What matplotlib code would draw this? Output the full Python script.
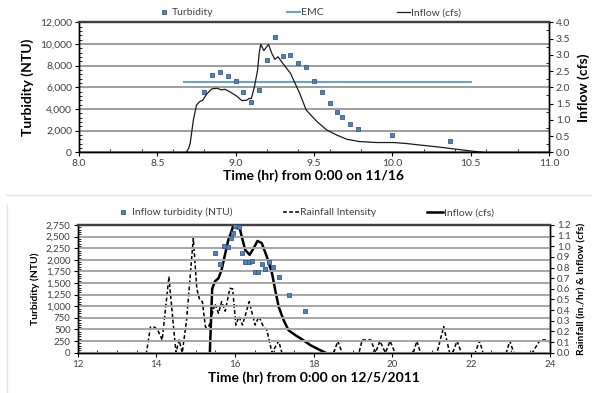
## turbidity / inflow event plots (two storms)

import matplotlib
matplotlib.use('Agg')
import matplotlib.pyplot as plt
import matplotlib.ticker as mticker
from matplotlib.lines import Line2D

plt.rcParams['font.family'] = ['Lato', 'DejaVu Sans']

# ---- storm of 11/16 ----
turb1_t   = [8.80, 8.85, 8.90, 8.95, 9.00, 9.05, 9.10, 9.15, 9.20, 9.25, 9.30, 9.35,
             9.40, 9.45, 9.50, 9.55, 9.60, 9.65, 9.68, 9.73, 9.78, 10.00, 10.37]
turb1_ntu = [5550, 7100, 7420, 7020, 6620, 5570, 4660, 5760, 8550, 10620, 8930, 8960,
             8220, 7900, 6620, 5520, 4570, 3730, 3250, 2600, 2160, 1620, 1020]
emc_t     = [8.67, 10.50]
emc_ntu   = [6500, 6500]
flow1_t   = [8.685, 8.70, 8.71, 8.73, 8.75, 8.77, 8.79, 8.815, 8.847, 8.88, 8.91, 8.93,
             8.96, 9.006, 9.04, 9.07, 9.087, 9.10, 9.12, 9.14, 9.15, 9.16, 9.18, 9.21,
             9.23, 9.25, 9.27, 9.30, 9.35, 9.41, 9.45, 9.52, 9.58, 9.645, 9.71, 9.79,
             9.90, 10.01, 10.09, 10.20, 10.30, 10.40, 10.50, 10.58]
flow1_cfs = [0.0, 0.12, 0.28, 0.99, 1.45, 1.56, 1.60, 1.79, 1.95, 1.97, 1.92, 1.94,
             1.87, 1.73, 1.59, 1.60, 1.66, 1.65, 2.02, 2.53, 3.05, 3.32, 3.13, 3.32,
             3.05, 2.86, 2.94, 2.74, 2.43, 1.80, 1.30, 0.94, 0.69, 0.53, 0.40, 0.33,
             0.30, 0.30, 0.27, 0.21, 0.16, 0.10, 0.04, 0.0]

# ---- storm of 12/5/2011 ----
turb2_t   = [15.49, 15.62, 15.72, 15.83, 15.89, 15.96, 15.99, 16.11, 16.17, 16.26, 16.36,
             16.44, 16.52, 16.59, 16.68, 16.76, 16.87, 16.96, 17.12, 17.38, 17.77]
turb2_ntu = [2140, 1900, 2300, 2280, 2480, 2580, 2730, 2710, 2140, 1950, 1960,
             1975, 1730, 1745, 1910, 1800, 1960, 1850, 1620, 1240, 890]
rain_t    = [12.0, 13.75, 13.85, 13.96, 14.04, 14.15, 14.32, 14.50, 14.58, 14.66, 14.77,
             14.94, 15.03, 15.10, 15.17, 15.25, 15.33, 15.49, 15.58, 15.66, 15.75, 15.87,
             15.94, 16.02, 16.10, 16.19, 16.36, 16.51, 16.61, 16.72, 16.81, 16.94, 17.11,
             17.19, 18.51, 18.61, 18.72, 19.15, 19.23, 19.45, 19.57, 19.68, 19.82, 19.94,
             20.06, 20.53, 20.62, 20.71, 21.13, 21.30, 21.45, 21.53, 21.64, 21.75, 22.10,
             22.21, 22.30, 22.89, 22.98, 23.08, 23.55, 23.75, 23.92, 24.0]
rain_inhr = [0.0, 0.0, 0.24, 0.24, 0.21, 0.12, 0.71, 0.0, 0.12, 0.0, 0.31,
             1.075, 0.60, 0.50, 0.48, 0.24, 0.24, 0.46, 0.37, 0.48, 0.39, 0.605,
             0.60, 0.26, 0.34, 0.26, 0.48, 0.26, 0.34, 0.245, 0.21, 0.0, 0.11,
             0.0, 0.0, 0.11, 0.0, 0.0, 0.12, 0.12, 0.0, 0.11, 0.0, 0.11,
             0.0, 0.0, 0.11, 0.0, 0.0, 0.245, 0.0, 0.0, 0.11, 0.0, 0.0,
             0.11, 0.0, 0.0, 0.11, 0.0, 0.0, 0.12, 0.12, 0.10]
flow2_t   = [15.36, 15.42, 15.49, 15.58, 15.66, 15.75, 15.83, 15.92, 15.97, 16.03, 16.06,
             16.09, 16.17, 16.26, 16.37, 16.47, 16.57, 16.68, 16.81, 16.94, 17.02, 17.11,
             17.23, 17.36, 17.53, 17.70, 17.92, 18.13, 18.30]
flow2_cfs = [0.0, 0.60, 0.67, 0.70, 0.78, 0.93, 1.06, 1.15, 1.22, 1.17, 1.22,
             1.22, 1.09, 0.965, 0.92, 0.98, 1.05, 1.03, 0.90, 0.746, 0.59, 0.43,
             0.31, 0.21, 0.166, 0.126, 0.07, 0.03, 0.0]

u_blue     = '#4f81bd'
u_blue_ed  = '#385d8a'
u_emc      = '#6a9fd8'
u_tick_col = '#404040'


def style_axes(ax, ax2, grid_col, grid_lw, lab_size):
    ax.yaxis.grid(True, color=grid_col, linewidth=grid_lw)
    ax.set_axisbelow(True)
    for a in (ax, ax2):
        a.spines['top'].set_color('#404040')
        a.spines['top'].set_linewidth(1.6)
        for s in ('left', 'right', 'bottom'):
            a.spines[s].set_color('black')
            a.spines[s].set_linewidth(1.0)
        a.tick_params(axis='both', which='major', direction='out', length=3,
                      width=0.8, labelsize=lab_size, labelcolor=u_tick_col, pad=2)
        a.tick_params(axis='both', which='minor', direction='in', length=2, width=0.6)


fig = plt.figure(figsize=(5.92, 3.93), dpi=100)

# ---------------- top chart ----------------
ax = fig.add_axes([0.1334, 0.6125, 0.7940, 0.3308])
ax2 = ax.twinx()
ax.set_xlim(8.0, 11.0)
ax.set_ylim(0, 12000)
ax2.set_ylim(0, 4.0)
ax.xaxis.set_major_locator(mticker.MultipleLocator(0.5))
ax.xaxis.set_minor_locator(mticker.MultipleLocator(0.2))
ax.xaxis.set_major_formatter(mticker.FormatStrFormatter('%.1f'))
ax.yaxis.set_major_locator(mticker.MultipleLocator(2000))
ax.yaxis.set_minor_locator(mticker.MultipleLocator(400))
ax.yaxis.set_major_formatter(mticker.StrMethodFormatter('{x:,.0f}'))
ax2.yaxis.set_major_locator(mticker.MultipleLocator(0.5))
ax2.yaxis.set_minor_locator(mticker.MultipleLocator(0.25))
ax2.yaxis.set_major_formatter(mticker.FormatStrFormatter('%.1f'))
style_axes(ax, ax2, '#8c8c8c', 1.2, 7.5)

h1, = ax.plot(turb1_t, turb1_ntu, linestyle='none', marker='s', markersize=3.4,
              markerfacecolor=u_blue, markeredgecolor=u_blue_ed, markeredgewidth=0.6,
              label='Turbidity', zorder=4)
h2, = ax.plot(emc_t, emc_ntu, color=u_emc, linewidth=1.5, label='EMC', zorder=3)
h3, = ax2.plot(flow1_t, flow1_cfs, color='#1a1a1a', linewidth=0.9, label='Inflow (cfs)')

ax.set_ylabel('Turbidity (NTU)', fontsize=10, fontweight='bold', labelpad=4)
ax2.set_ylabel('Inflow (cfs)', fontsize=10, fontweight='bold', labelpad=5)
ax.set_xlabel('Time (hr) from 0:00 on 11/16', fontsize=10, fontweight='bold', labelpad=1)
ax2.legend(handles=[h1, h2, h3], loc='lower center', bbox_to_anchor=(0.49, 0.99), ncol=3,
           frameon=False, fontsize=7.5, handlelength=1.3, handletextpad=0.1,
           columnspacing=7.0, borderpad=0.1, labelcolor=u_tick_col)

# ---------------- bottom chart ----------------
bx = fig.add_axes([0.1310, 0.1025, 0.7980, 0.3250])
bx2 = bx.twinx()
bx.set_xlim(12, 24)
bx.set_ylim(0, 2750)
bx2.set_ylim(0, 1.2)
bx.xaxis.set_major_locator(mticker.MultipleLocator(2))
bx.xaxis.set_minor_locator(mticker.MultipleLocator(0.5))
bx.yaxis.set_major_locator(mticker.MultipleLocator(250))
bx.yaxis.set_minor_locator(mticker.MultipleLocator(50))
bx.yaxis.set_major_formatter(mticker.StrMethodFormatter('{x:,.0f}'))
bx2.yaxis.set_major_locator(mticker.MultipleLocator(0.1))
bx2.yaxis.set_major_formatter(mticker.FormatStrFormatter('%.1f'))
style_axes(bx, bx2, '#a6a6a6', 1.4, 7.0)

g1, = bx.plot(turb2_t, turb2_ntu, linestyle='none', marker='s', markersize=3.2,
              markerfacecolor=u_blue, markeredgecolor=u_blue_ed, markeredgewidth=0.6,
              label='Inflow turbidity (NTU)', zorder=4)
g2, = bx2.plot(rain_t, rain_inhr, color='black', linewidth=1.1, linestyle=(0, (2.5, 1.5)),
               label='Rainfall Intensity')
g3, = bx2.plot(flow2_t, flow2_cfs, color='black', linewidth=1.8, label='Inflow (cfs)')
bx.set_zorder(bx2.get_zorder() + 1)
bx.patch.set_visible(False)

bx.set_ylabel('Turbidity (NTU)', fontsize=7.5, fontweight='bold', labelpad=4)
bx2.set_ylabel('Rainfall (in./hr) & Inflow (cfs)', fontsize=7.5, fontweight='bold', labelpad=5)
bx.set_xlabel('Time (hr) from 0:00 on 12/5/2011', fontsize=10, fontweight='bold', labelpad=2)
bx.legend(handles=[g1, g2, g3], loc='lower center', bbox_to_anchor=(0.48, 1.01), ncol=3,
          frameon=False, fontsize=7.5, handlelength=1.6, handletextpad=0.1,
          columnspacing=4.8, borderpad=0.1, labelcolor=u_tick_col)

# light borders of the two pasted chart images
fig.add_artist(Line2D([0.01, 1.0], [1 - 195 / 393, 1 - 195 / 393], color='#e3e3e3', linewidth=1.0))
fig.add_artist(Line2D([0.011, 0.011], [0.0, 1 - 205 / 393], color='#e3e3e3', linewidth=1.0))

plt.savefig('out.png', dpi=100)
